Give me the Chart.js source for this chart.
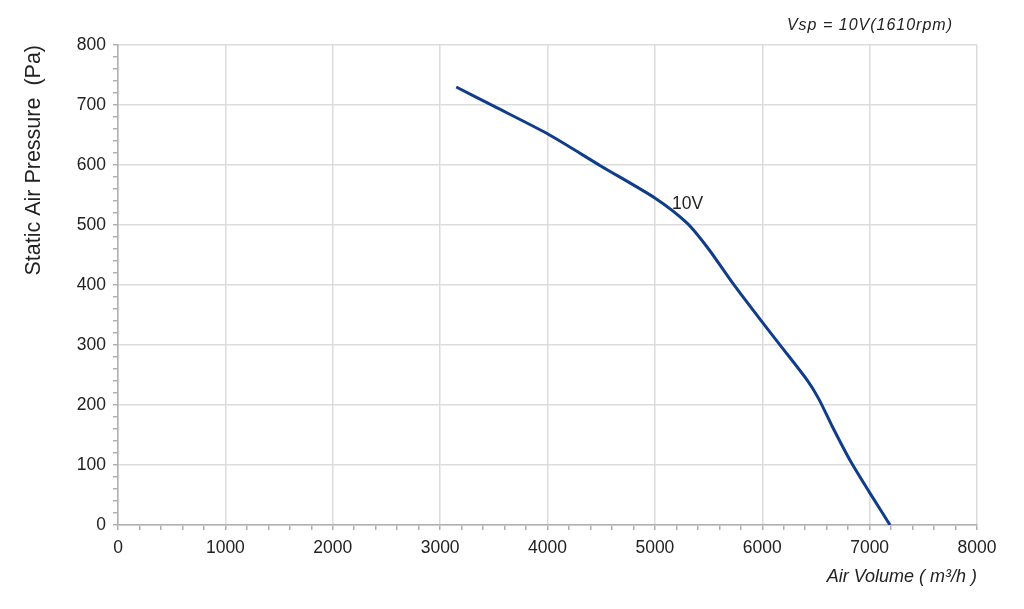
<!DOCTYPE html>
<html>
<head>
<meta charset="utf-8">
<script src="https://cdn.jsdelivr.net/npm/chart.js@4/dist/chart.umd.min.js"></script>
<style>
  html, body { margin: 0; padding: 0; background: #fff; }
  #wrap { width: 1024px; height: 609px; }
</style>
</head>
<body>
<div id="wrap"><canvas id="fanChart"></canvas></div>
<script>
// curve
const airVolume = [3150, 3500, 4000, 4500, 5000, 5300, 5500, 5725, 6000, 6170, 6420, 6530, 6650, 6820, 7000, 7190];
const pressure = [730, 698, 652, 598, 545, 503, 460, 403, 338, 299, 241, 209, 165, 107, 54, 0];
const curveLabel = '10V';
const speedNote = 'Vsp = 10V(1610rpm)';
const xTicks = [0, 1000, 2000, 3000, 4000, 5000, 6000, 7000, 8000];
const yTicks = [0, 100, 200, 300, 400, 500, 600, 700, 800];

const FONT = "'Liberation Sans', Arial, sans-serif";

// text bits that are not axis titles
const notes = {
    id: 'notes',
    afterDraw(chart) {
        const { ctx, chartArea, scales } = chart;
        ctx.save();
        ctx.fillStyle = '#222';
        ctx.textBaseline = 'middle';
        ctx.font = 'italic 16px ' + FONT;
        ctx.letterSpacing = '1px';
        ctx.textAlign = 'right';
        ctx.fillText(speedNote, chartArea.right - 24, chartArea.top - 19);
        ctx.letterSpacing = '0px';
        ctx.font = '17.5px ' + FONT;
        ctx.textAlign = 'left';
        ctx.fillText(curveLabel, scales.x.getPixelForValue(5160), scales.y.getPixelForValue(535));
        ctx.restore();
    }
};

const isMajorX = v => xTicks.includes(v);
const isMajorY = v => yTicks.includes(v);

new Chart(document.getElementById('fanChart'), {
    type: 'scatter',
    data: {
        datasets: [{
            data: airVolume.map((x, i) => ({ x: x, y: pressure[i] })),
            showLine: true,
            borderColor: '#0f3d88',
            borderWidth: 3,
            pointRadius: 0,
            tension: 0.25
        }]
    },
    options: {
        responsive: true,
        maintainAspectRatio: false,
        animation: false,
        layout: { padding: { top: 45, right: 47, bottom: 0, left: 0 } },
        plugins: { legend: { display: false }, tooltip: { enabled: false } },
        scales: {
            x: {
                type: 'linear',
                min: 0,
                max: 8000,
                afterFit(scale) { scale.height = 84; },
                ticks: {
                    stepSize: 200,
                    autoSkip: false,
                    maxRotation: 0,
                    padding: 8,
                    color: '#222',
                    font: { family: FONT, size: 17.5 },
                    callback: v => isMajorX(v) ? String(v) : ''
                },
                grid: {
                    color: ctx => isMajorX(ctx.tick.value) ? '#dcdcdc' : 'rgba(0,0,0,0)',
                    tickColor: '#b0b0b0',
                    tickLength: 5,
                    lineWidth: 1.5
                },
                border: { color: '#b0b0b0', width: 1.5 },
                title: {
                    display: true,
                    text: 'Air Volume ( m³/h )',
                    align: 'end',
                    color: '#222',
                    font: { family: FONT, size: 18, style: 'italic' },
                    padding: { top: 0, bottom: 21 }
                }
            },
            y: {
                type: 'linear',
                min: 0,
                max: 800,
                afterFit(scale) { scale.width = 118; },
                ticks: {
                    stepSize: 20,
                    autoSkip: false,
                    padding: 7,
                    color: '#222',
                    font: { family: FONT, size: 17.5 },
                    callback: v => isMajorY(v) ? String(v) : ''
                },
                grid: {
                    color: ctx => isMajorY(ctx.tick.value) ? '#dcdcdc' : 'rgba(0,0,0,0)',
                    tickColor: '#b0b0b0',
                    tickLength: 5,
                    lineWidth: 1.5
                },
                border: { color: '#b0b0b0', width: 1.5 },
                title: {
                    display: true,
                    text: 'Static Air Pressure  (Pa)',
                    align: 'end',
                    color: '#222',
                    font: { family: FONT, size: 21.5 },
                    padding: { top: 21, bottom: 0 }
                }
            }
        }
    },
    plugins: [notes]
});
</script>
</body>
</html>
